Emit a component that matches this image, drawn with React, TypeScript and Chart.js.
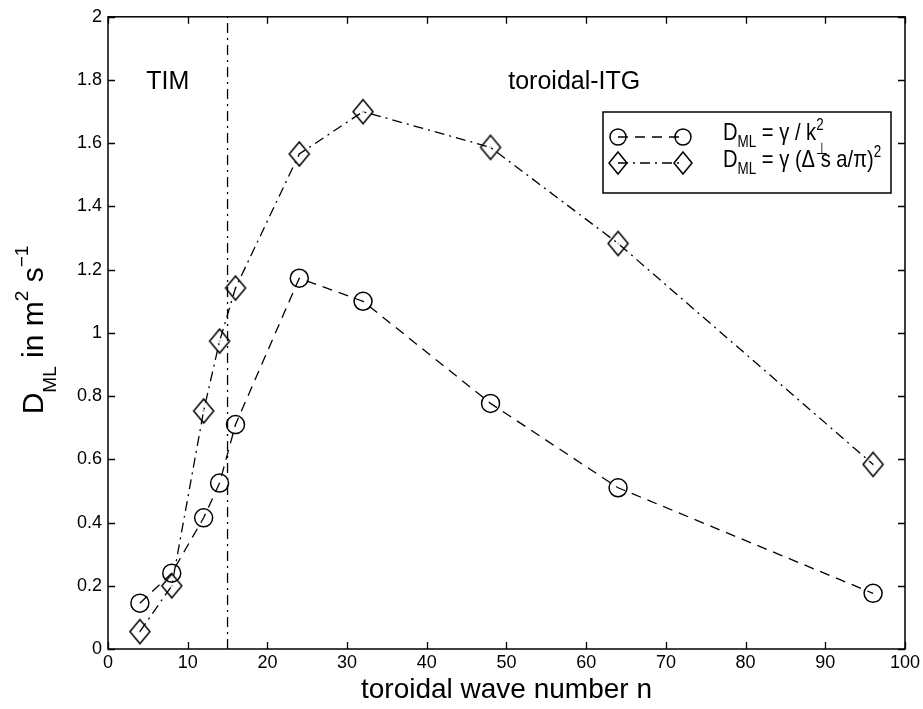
import React, { useEffect, useRef } from "react";
import { Chart, registerables } from "chart.js";

Chart.register(...registerables);

// ---- data ----
const nValues = [4, 8, 12, 14, 16, 24, 32, 48, 64, 96];
const dGammaK = [0.145, 0.24, 0.415, 0.525, 0.71, 1.173, 1.1, 0.777, 0.51, 0.176];
const dGammaS = [0.055, 0.2, 0.753, 0.974, 1.142, 1.566, 1.7, 1.587, 1.283, 0.584];
const boundaryN = 15;

const xTicks = [0, 10, 20, 30, 40, 50, 60, 70, 80, 90, 100];
const xTickLabels = ["0", "10", "20", "30", "40", "50", "60", "70", "80", "90", "100"];
const yTicks = [0, 0.2, 0.4, 0.6, 0.8, 1, 1.2, 1.4, 1.6, 1.8, 2];
const yTickLabels = ["0", "0.2", "0.4", "0.6", "0.8", "1", "1.2", "1.4", "1.6", "1.8", "2"];

const regionLabels = ["TIM", "toroidal-ITG"];
const regionLabelX = [7.5, 58.5];

const FONT = "'Liberation Sans', Arial, Helvetica, sans-serif";
const DASH = [10, 7];
const DASHDOT = [10, 5, 2, 5];

type Seg = { t?: string; size: number; dy?: number; sup?: string; sub?: string };

function segWidth(ctx: CanvasRenderingContext2D, s: Seg) {
  ctx.font = `${s.size}px ${FONT}`;
  if (s.t !== undefined) return ctx.measureText(s.t).width;
  const a = s.sup ? ctx.measureText(s.sup).width : 0;
  const b = s.sub ? ctx.measureText(s.sub).width : 0;
  return Math.max(a, b);
}

function richWidth(ctx: CanvasRenderingContext2D, segs: Seg[]) {
  return segs.reduce((w, s) => w + segWidth(ctx, s), 0);
}

function drawRich(ctx: CanvasRenderingContext2D, x: number, baseline: number, segs: Seg[], supDy: number, subDy: number) {
  ctx.textAlign = "left";
  ctx.textBaseline = "alphabetic";
  let cx = x;
  for (const s of segs) {
    ctx.font = `${s.size}px ${FONT}`;
    if (s.t !== undefined) {
      ctx.fillText(s.t, cx, baseline + (s.dy || 0));
    } else {
      if (s.sup) ctx.fillText(s.sup, cx, baseline + supDy);
      if (s.sub) ctx.fillText(s.sub, cx, baseline + subDy);
    }
    cx += segWidth(ctx, s);
  }
  return cx;
}

function makeDiamond(w: number, h: number) {
  const c = document.createElement("canvas");
  c.width = w + 4;
  c.height = h + 4;
  const g = c.getContext("2d")!;
  const cx = c.width / 2;
  const cy = c.height / 2;
  g.strokeStyle = "#000";
  g.lineWidth = 1.5;
  g.beginPath();
  g.moveTo(cx, cy - h / 2);
  g.lineTo(cx + w / 2, cy);
  g.lineTo(cx, cy + h / 2);
  g.lineTo(cx - w / 2, cy);
  g.closePath();
  g.stroke();
  g.fillStyle = "#000";
  g.fillRect(cx - 0.5, cy - 0.5, 1, 1);
  return c;
}

function drawDiamond(ctx: CanvasRenderingContext2D, x: number, y: number, w: number, h: number) {
  ctx.beginPath();
  ctx.moveTo(x, y - h / 2);
  ctx.lineTo(x + w / 2, y);
  ctx.lineTo(x, y + h / 2);
  ctx.lineTo(x - w / 2, y);
  ctx.closePath();
  ctx.stroke();
}

const decorPlugin = {
  id: "decor",
  afterDraw(chart: any) {
    const { ctx, chartArea } = chart;
    const { left, right, top, bottom } = chartArea;
    const xs = chart.scales.x;
    const ys = chart.scales.y;
    ctx.save();
    ctx.strokeStyle = "#000";
    ctx.fillStyle = "#000";
    ctx.setLineDash([]);
    ctx.lineWidth = 1.5;
    ctx.strokeRect(left, top, right - left, bottom - top);
    // inward ticks on all sides
    ctx.lineWidth = 1.3;
    const tl = 7;
    ctx.beginPath();
    xTicks.forEach((v) => {
      const px = Math.round(xs.getPixelForValue(v)) + 0.5;
      ctx.moveTo(px, bottom);
      ctx.lineTo(px, bottom - tl);
      ctx.moveTo(px, top);
      ctx.lineTo(px, top + tl);
    });
    yTicks.forEach((v) => {
      const py = Math.round(ys.getPixelForValue(v)) + 0.5;
      ctx.moveTo(left, py);
      ctx.lineTo(left + tl, py);
      ctx.moveTo(right, py);
      ctx.lineTo(right - tl, py);
    });
    ctx.stroke();

    // region labels
    ctx.font = `25px ${FONT}`;
    ctx.textAlign = "center";
    ctx.textBaseline = "alphabetic";
    regionLabels.forEach((t, i) => {
      ctx.fillText(t, xs.getPixelForValue(regionLabelX[i]), 89);
    });

    // legend
    const lx = 603, ly = 112, lw = 288, lh = 81;
    ctx.fillStyle = "#fff";
    ctx.fillRect(lx, ly, lw, lh);
    ctx.fillStyle = "#000";
    ctx.lineWidth = 1.5;
    ctx.strokeRect(lx, ly, lw, lh);
    const r1 = 137, r2 = 163;
    const sx1 = 618, sx2 = 683;
    ctx.lineWidth = 1.3;
    ctx.setLineDash(DASH);
    ctx.beginPath();
    ctx.moveTo(sx1, r1);
    ctx.lineTo(sx2, r1);
    ctx.stroke();
    ctx.setLineDash(DASHDOT);
    ctx.beginPath();
    ctx.moveTo(sx1, r2);
    ctx.lineTo(sx2, r2);
    ctx.stroke();
    ctx.setLineDash([]);
    ctx.lineWidth = 1.5;
    [sx1, sx2].forEach((sx) => {
      ctx.beginPath();
      ctx.arc(sx, r1, 8, 0, Math.PI * 2);
      ctx.stroke();
      drawDiamond(ctx, sx, r2, 18, 22);
    });
    const L = 24, S = 16;
    ctx.save();
    ctx.translate(723, 0);
    ctx.scale(0.84, 1);
    drawRich(ctx, 0, 140, [
      { t: "D", size: L },
      { t: "ML", size: S, dy: 7 },
      { t: " = γ / k", size: L },
      { sup: "2", sub: "⊥", size: S },
    ], -10, 14);
    drawRich(ctx, 0, 167, [
      { t: "D", size: L },
      { t: "ML", size: S, dy: 7 },
      { t: " = γ (Δ s a/π)", size: L },
      { sup: "2", size: S },
    ], -10, 7);
    ctx.restore();

    // x title
    ctx.font = `28px ${FONT}`;
    ctx.textAlign = "center";
    ctx.textBaseline = "middle";
    ctx.fillText("toroidal wave number n", (left + right) / 2, 690);

    // y title
    const Y = 30, YS = 19;
    const ySegs: Seg[] = [
      { t: "D", size: Y },
      { t: "ML", size: YS, dy: 13 },
      { t: " in m", size: Y },
      { t: "2", size: YS, dy: -15 },
      { t: " s", size: Y },
      { t: "−1", size: YS, dy: -15 },
    ];
    ctx.save();
    ctx.translate(43, 330);
    ctx.rotate(-Math.PI / 2);
    const w = richWidth(ctx, ySegs);
    drawRich(ctx, -w / 2, 0, ySegs, -15, 13);
    ctx.restore();

    ctx.restore();
  },
};

export default function App() {
  const ref = useRef<HTMLCanvasElement>(null);
  useEffect(() => {
    if (!ref.current) return;
    const diamond = makeDiamond(20, 24);
    const chart = new Chart(ref.current, {
      type: "line",
      data: {
        datasets: [
          {
            data: nValues.map((n, i) => ({ x: n, y: dGammaK[i] })),
            borderColor: "#000",
            borderWidth: 1.3,
            borderDash: DASH,
            pointStyle: "circle",
            pointRadius: 9,
            pointBorderWidth: 1.5,
            pointBorderColor: "#000",
            pointBackgroundColor: "rgba(0,0,0,0)",
            fill: false,
            tension: 0,
            clip: false as any,
          },
          {
            data: nValues.map((n, i) => ({ x: n, y: dGammaS[i] })),
            borderColor: "#000",
            borderWidth: 1.3,
            borderDash: DASHDOT,
            pointStyle: diamond as any,
            pointRadius: 12,
            fill: false,
            tension: 0,
            clip: false as any,
          },
          {
            data: [
              { x: boundaryN, y: yTicks[0] },
              { x: boundaryN, y: yTicks[yTicks.length - 1] },
            ],
            borderColor: "#000",
            borderWidth: 1.3,
            borderDash: DASHDOT,
            pointRadius: 0,
            fill: false,
          },
        ],
      },
      options: {
        animation: false,
        responsive: false,
        events: [],
        layout: { padding: { top: 16, right: 18, left: 0, bottom: 0 } },
        plugins: { legend: { display: false }, tooltip: { enabled: false } },
        scales: {
          x: {
            type: "linear",
            min: 0,
            max: 100,
            grid: { display: false, drawTicks: false },
            border: { display: false },
            afterBuildTicks: (s: any) => {
              s.ticks = xTicks.map((v) => ({ value: v }));
            },
            afterFit: (s: any) => {
              s.height = 60;
            },
            ticks: {
              color: "#000",
              font: { family: FONT, size: 18 },
              padding: 3,
              maxRotation: 0,
              autoSkip: false,
              callback: (_v: any, i: number) => xTickLabels[i],
            },
          },
          y: {
            type: "linear",
            min: 0,
            max: 2,
            grid: { display: false, drawTicks: false },
            border: { display: false },
            afterBuildTicks: (s: any) => {
              s.ticks = yTicks.map((v) => ({ value: v }));
            },
            afterFit: (s: any) => {
              s.width = 108;
            },
            ticks: {
              color: "#000",
              font: { family: FONT, size: 18 },
              padding: 6,
              autoSkip: false,
              callback: (_v: any, i: number) => yTickLabels[i],
            },
          },
        },
      },
      plugins: [decorPlugin],
    });
    return () => chart.destroy();
  }, []);
  return (
    <div style={{ position: "absolute", left: 0, top: 0, width: 923, height: 709, background: "#fff" }}>
      <canvas ref={ref} width={923} height={709} />
    </div>
  );
}
